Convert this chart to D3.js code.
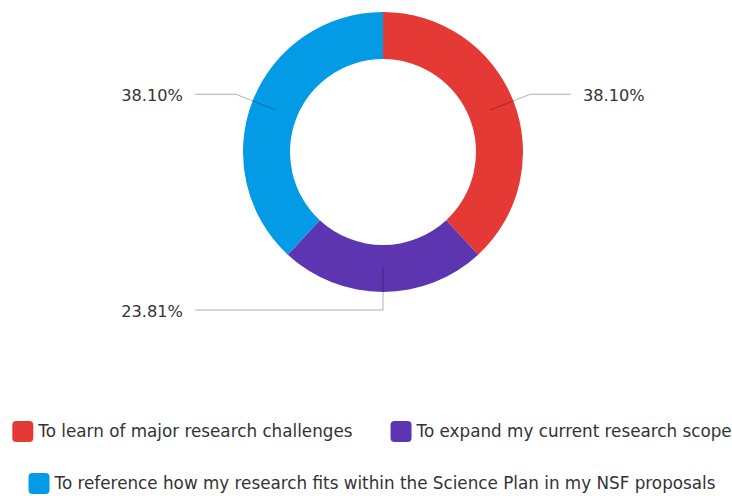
<!DOCTYPE html>
<html>
<head>
<meta charset="utf-8">
<script src="https://cdn.jsdelivr.net/npm/d3@7"></script>
<style>
	body { margin: 0; background: #fff; }
	svg text { font-family: 'DejaVu Sans', sans-serif; fill: #333; }
</style>
</head>
<body>
<div id="chart"></div>
<script>
const categories = [
	'To learn of major research challenges',
	'To expand my current research scope',
	'To reference how my research fits within the Science Plan in my NSF proposals'
]
const values = [38.10, 23.81, 38.10]
const colors = ['#E53935', '#5E35B1', '#039BE5']

const width = 732
const height = 496
const center = { x: 383, y: 152 }
const outerR = 140
const innerR = 93

const svg = d3.select('#chart').append('svg')
	.attr('width', width)
	.attr('height', height)

const pie = d3.pie().sort(null).value(d => d.value)
const data = pie(categories.map((c, i) => ({ name: c, value: values[i], color: colors[i] })))

const arc = d3.arc().innerRadius(innerR).outerRadius(outerR)
const midArc = d3.arc().innerRadius(115).outerRadius(115)
const elbowArc = d3.arc().innerRadius(158).outerRadius(158)

const g = svg.append('g').attr('transform', `translate(${center.x},${center.y})`)

g.selectAll('path.slice')
	.data(data)
	.enter()
	.append('path')
	.attr('class', 'slice')
	.attr('d', arc)
	.attr('fill', d => d.data.color)

// leader lines + labels
const fmt = d3.format('.2f')
data.forEach(d => {
	const mid = (d.startAngle + d.endAngle) / 2
	const side = mid < Math.PI - 0.01 ? 1 : -1
	const p0 = midArc.centroid(d)
	const p1 = elbowArc.centroid(d)
	const endX = side * 188
	g.append('polyline')
		.attr('points', [p0, p1, [endX, p1[1]]].map(p => p.join(',')).join(' '))
		.attr('fill', 'none')
		.attr('stroke', '#000')
		.attr('stroke-opacity', 0.3)
		.attr('stroke-width', 1)
	g.append('text')
		.attr('x', endX + side * 12)
		.attr('y', p1[1] + 1)
		.attr('dy', '0.35em')
		.attr('text-anchor', side > 0 ? 'start' : 'end')
		.style('font-size', '16.2px')
		.text(fmt(d.data.value) + '%')
})

// legend
const legend = svg.append('g')
const items = legend.selectAll('g')
	.data(data)
	.enter()
	.append('g')
items.append('rect')
	.attr('width', 21)
	.attr('height', 21)
	.attr('rx', 4)
	.attr('fill', d => d.data.color)
items.append('text')
	.attr('x', 26)
	.attr('y', 10.5)
	.attr('dy', '0.35em')
	.style('font-size', '16.8px')
	.text(d => d.data.name)

// wrap legend items into centered rows
const maxW = 728
const gap = 38
const rows = []
let row = []
let rowW = 0
items.each(function() {
	const w = 26 + this.querySelector('text').getComputedTextLength()
	const need = row.length ? rowW + gap + w : w
	if (row.length && need > maxW) {
		rows.push({ items: row, w: rowW })
		row = []
		rowW = 0
	}
	rowW = row.length ? rowW + gap + w : w
	row.push({ el: this, w })
})
rows.push({ items: row, w: rowW })
rows.forEach((r, ri) => {
	let x = 372 - r.w / 2
	const y = 421 + ri * 52
	r.items.forEach(it => {
		d3.select(it.el).attr('transform', `translate(${x},${y})`)
		x += it.w + gap
	})
})
</script>
</body>
</html>
